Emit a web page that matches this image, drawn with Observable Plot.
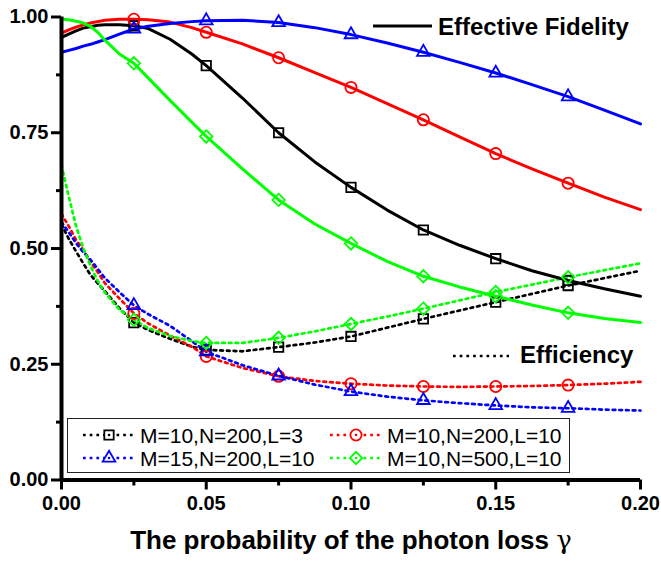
<!DOCTYPE html>
<html><head><meta charset="utf-8">
<script src="https://cdn.jsdelivr.net/npm/d3@7"></script>
<script src="https://cdn.jsdelivr.net/npm/@observablehq/plot@0.6"></script>
<style>
body{margin:0;background:#fff;}
#wrap{position:relative;width:661px;height:564px;font-family:"Liberation Sans",Arial,sans-serif;}
#overlay{position:absolute;left:0;top:0;pointer-events:none;}
</style></head><body><div id="wrap"></div>
<script>
// x values (photon loss probability)
const gamma = [0, 0.0025, 0.005, 0.0075, 0.01, 0.0125, 0.015, 0.02, 0.025, 0.03, 0.0375, 0.045, 0.05, 0.0625, 0.075, 0.0875, 0.1, 0.1125, 0.125, 0.1375, 0.15, 0.1625, 0.175, 0.1875, 0.2];
const markerGamma = [0.025, 0.05, 0.075, 0.1, 0.125, 0.15, 0.175];

const seriesNames = ["M=10,N=200,L=3", "M=10,N=200,L=10", "M=15,N=200,L=10", "M=10,N=500,L=10"];
const seriesColors = ["#000000", "#ff0000", "#0000ff", "#00ff00"];
const seriesSymbols = ["square", "circle", "triangle", "diamond2"];
const symbolR = [5.3, 5.6, 4.7, 5.6];

// Effective fidelity (solid lines)
const fidM10N200L3  = [0.956,0.963,0.970,0.976,0.979,0.982,0.983,0.983,0.981,0.975,0.952,0.920,0.895,0.825,0.750,0.687,0.632,0.583,0.540,0.507,0.478,0.452,0.431,0.413,0.397];
const fidM10N200L10 = [0.965,0.972,0.978,0.983,0.987,0.990,0.993,0.995,0.995,0.994,0.989,0.977,0.967,0.942,0.912,0.880,0.848,0.813,0.778,0.741,0.705,0.672,0.641,0.611,0.584];
const fidM15N200L10 = [0.924,0.928,0.932,0.937,0.941,0.946,0.951,0.963,0.974,0.980,0.986,0.990,0.992,0.993,0.988,0.977,0.962,0.944,0.924,0.902,0.879,0.854,0.828,0.799,0.769];
const fidM10N500L10 = [0.995,0.994,0.991,0.987,0.980,0.967,0.950,0.920,0.900,0.868,0.820,0.773,0.742,0.672,0.605,0.553,0.511,0.472,0.440,0.417,0.397,0.378,0.361,0.349,0.340];

// Efficiency (dotted lines)
const effM10N200L3  = [0.552,0.521,0.494,0.468,0.443,0.425,0.408,0.371,0.340,0.324,0.305,0.288,0.281,0.278,0.287,0.297,0.310,0.329,0.348,0.366,0.384,0.402,0.420,0.436,0.452];
const effM10N200L10 = [0.575,0.548,0.519,0.497,0.472,0.449,0.425,0.392,0.360,0.338,0.312,0.288,0.267,0.242,0.224,0.214,0.208,0.204,0.202,0.201,0.202,0.203,0.205,0.208,0.212];
const effM15N200L10 = [0.557,0.535,0.512,0.492,0.476,0.456,0.436,0.406,0.377,0.358,0.333,0.300,0.277,0.248,0.225,0.206,0.191,0.180,0.172,0.166,0.161,0.157,0.155,0.152,0.150];
const effM10N500L10 = [0.680,0.612,0.549,0.501,0.463,0.430,0.405,0.368,0.346,0.328,0.311,0.300,0.296,0.296,0.307,0.321,0.337,0.353,0.370,0.388,0.406,0.422,0.438,0.453,0.468];

const yTicks = [0, 0.25, 0.5, 0.75, 1.0];
const yMinor = [0.125, 0.375, 0.625, 0.875];
const xTicks = [0, 0.05, 0.1, 0.15, 0.2];
const xMinor = [0.025, 0.075, 0.125, 0.175];

const fidelity = [fidM10N200L3, fidM10N200L10, fidM15N200L10, fidM10N500L10];
const efficiency = [effM10N200L3, effM10N200L10, effM15N200L10, effM10N500L10];

const rows = [];
seriesNames.forEach((name, i) => {
  gamma.forEach((g, j) => rows.push({gamma: g, fid: fidelity[i][j], eff: efficiency[i][j], series: name}));
});
const markRows = rows.filter(d => markerGamma.includes(d.gamma));

const dotMarks = [];
seriesNames.forEach((name, i) => {
  const sub = markRows.filter(d => d.series === name);
  for (const key of ["fid", "eff"]) {
    dotMarks.push(Plot.dot(sub, {x: "gamma", y: key, symbol: seriesSymbols[i], r: symbolR[i],
      stroke: seriesColors[i], strokeWidth: 1.8, fill: "none"}));
  }
});

const fmt = d3.format(".2f");
const plot = Plot.plot({
  width: 661, height: 564,
  marginLeft: 61, marginRight: 21, marginTop: 16.5, marginBottom: 84.5,
  x: {domain: [0, 0.2], label: null},
  y: {domain: [0, 1], label: null},
  color: {domain: seriesNames, range: seriesColors},
  style: {background: "white", color: "black", fontFamily: "'Liberation Sans', Arial, sans-serif", fontWeight: "bold", fontSize: "20px"},
  marks: [
    Plot.line(rows, {x: "gamma", y: "eff", z: "series", stroke: "series", strokeWidth: 2.7, strokeDasharray: "2.7,4"}),
    Plot.line(rows, {x: "gamma", y: "fid", z: "series", stroke: "series", strokeWidth: 3}),
    ...dotMarks,
    Plot.axisX({ticks: xTicks, tickFormat: fmt, tickSize: 10, tickPadding: 6, strokeWidth: 3, fontSize: 20, fontWeight: "bold", label: null}),
    Plot.axisX({ticks: xMinor, tickFormat: () => "", tickSize: 6, strokeWidth: 3, label: null}),
    Plot.axisY({ticks: yTicks, tickFormat: fmt, tickSize: 10, tickPadding: 3, strokeWidth: 3, fontSize: 20, fontWeight: "bold", label: null}),
    Plot.axisY({ticks: yMinor, tickFormat: () => "", tickSize: 5, strokeWidth: 3, label: null}),
    Plot.ruleX([0], {strokeWidth: 4}),
    Plot.ruleY([0], {strokeWidth: 4})
  ]
});
const wrap = document.getElementById("wrap");
wrap.appendChild(plot);

// Overlay: annotations, legend and axis title
const ov = d3.select(wrap).append("svg").attr("id", "overlay")
  .attr("width", 661).attr("height", 564)
  .style("font-family", "'Liberation Sans', Arial, sans-serif");

ov.append("line").attr("x1", 373).attr("x2", 432).attr("y1", 26).attr("y2", 26)
  .attr("stroke", "black").attr("stroke-width", 3);
ov.append("text").attr("x", 438).attr("y", 35).attr("font-size", 24).attr("font-weight", "bold").text("Effective Fidelity");
ov.append("line").attr("x1", 453).attr("x2", 509).attr("y1", 356).attr("y2", 356)
  .attr("stroke", "black").attr("stroke-width", 2.7).attr("stroke-dasharray", "2.7,4");
ov.append("text").attr("x", 520).attr("y", 363).attr("font-size", 24).attr("font-weight", "bold").text("Efficiency");

ov.append("rect").attr("x", 67.5).attr("y", 418.5).attr("width", 502).attr("height", 54)
  .attr("fill", "white").attr("stroke", "#222").attr("stroke-width", 1);
const legendPos = [{x: 83, y: 435}, {x: 330, y: 435}, {x: 83, y: 458}, {x: 330, y: 458}];
const d3Sym = {square: d3.symbolSquare, circle: d3.symbolCircle, triangle: d3.symbolTriangle, diamond2: d3.symbolDiamond2};
seriesNames.forEach((name, i) => {
  const p = legendPos[i];
  const g = ov.append("g");
  g.append("line").attr("x1", p.x).attr("x2", p.x + 52).attr("y1", p.y).attr("y2", p.y)
    .attr("stroke", seriesColors[i]).attr("stroke-width", 2.7).attr("stroke-dasharray", "2.7,4");
  g.append("path").attr("transform", `translate(${p.x + 26},${p.y})`)
    .attr("d", d3.symbol(d3Sym[seriesSymbols[i]], Math.PI * symbolR[i] * symbolR[i])())
    .attr("fill", "white").attr("stroke", seriesColors[i]).attr("stroke-width", 1.8);
  g.append("circle").attr("cx", p.x + 26).attr("cy", p.y).attr("r", 1.3).attr("fill", seriesColors[i]);
  g.append("text").attr("x", p.x + 57).attr("y", p.y + 7.5).attr("font-size", 21).text(name);
});

const title = ov.append("text").attr("x", 351).attr("y", 549).attr("text-anchor", "middle")
  .attr("font-size", 26).attr("font-weight", "bold");
title.append("tspan").text("The probability of the photon loss ");
title.append("tspan").attr("font-weight", "normal").attr("font-family", "'DejaVu Serif', serif").text("γ");
</script></body></html>
